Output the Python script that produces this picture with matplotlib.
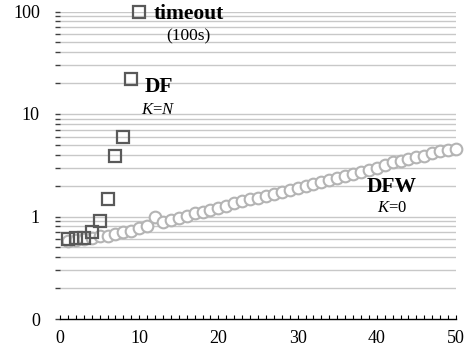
import numpy as np
import matplotlib.pyplot as plt
from matplotlib.ticker import FixedLocator, FixedFormatter, MultipleLocator, NullFormatter

plt.rcParams['font.family'] = ['Liberation Serif', 'DejaVu Serif']
plt.rcParams['mathtext.fontset'] = 'custom'
plt.rcParams['mathtext.rm'] = 'Liberation Serif'
plt.rcParams['mathtext.it'] = 'Liberation Serif:italic'

# DF (K=N): times in seconds, last point hits the 100 s timeout
df_x = [1, 2, 3, 4, 5, 6, 7, 8, 9, 10]
df_y = [0.61, 0.62, 0.62, 0.70, 0.91, 1.48, 3.9, 6.0, 21.8, 100]

# DFW (K=0)
dfw_x = list(range(1, 51))
dfw_y = [0.58, 0.59, 0.61, 0.62, 0.64, 0.65, 0.68, 0.70, 0.73, 0.77,
         0.81, 0.98, 0.88, 0.92, 0.97, 1.02, 1.07, 1.11, 1.17, 1.22,
         1.27, 1.35, 1.41, 1.47, 1.53, 1.60, 1.67, 1.74, 1.82, 1.90,
         1.98, 2.08, 2.18, 2.28, 2.38, 2.48, 2.58, 2.70, 2.84, 3.00,
         3.20, 3.38, 3.48, 3.64, 3.83, 3.92, 4.14, 4.36, 4.45, 4.52]

y_major = [0.1, 1, 10, 100]
y_major_labels = ['0', '1', '10', '100']

fig = plt.figure(figsize=(4.68, 3.55), dpi=100)
ax = fig.add_axes([60 / 468, 1 - 319 / 355, 396 / 468, 307.5 / 355])

ax.set_yscale('log')
ax.set_ylim(0.1, 100)
ax.set_xlim(0, 50)

# gridlines at every minor and major position
grid_pos = [m * 10.0 ** e for e in (-1, 0, 1) for m in range(2, 10)] + [1, 10, 100]
for g in grid_pos:
    ax.axhline(g, color='#c8c8c8', lw=1.0, zorder=0)

ax.plot(dfw_x, dfw_y, 'o', ms=8.4, mfc='white', mec='#b4b4b4', mew=1.5,
        zorder=3, clip_on=False)
ax.plot(df_x, df_y, 's', ms=8.2, mfc='none', mec='#595959', mew=1.6,
        zorder=4, clip_on=False)

ax.yaxis.set_major_locator(FixedLocator(y_major))
ax.yaxis.set_major_formatter(FixedFormatter(y_major_labels))
ax.yaxis.set_minor_locator(FixedLocator(grid_pos))
ax.yaxis.set_minor_formatter(NullFormatter())
ax.tick_params(axis='y', which='both', direction='out', length=3.5, width=1.0,
               color='#404040', pad=11, labelsize=13)

ax.xaxis.set_major_locator(MultipleLocator(10))
ax.xaxis.set_minor_locator(MultipleLocator(1))
ax.tick_params(axis='x', which='both', direction='in', length=3, width=0.8,
               color='black', pad=8, labelsize=13)

for s in ['top', 'right', 'left']:
    ax.spines[s].set_visible(False)
ax.spines['bottom'].set_linewidth(1.0)

ax.text(16.2, 95, 'timeout', ha='center', va='center', fontsize=15.5, fontweight='bold')
ax.text(16.2, 57.7, '(100s)', ha='center', va='center', fontsize=12.5)
ax.text(12.5, 18.2, 'DF', ha='center', va='center', fontsize=15.5, fontweight='bold')
ax.text(12.4, 10.9, '$K$=$N$', ha='center', va='center', fontsize=12)
ax.text(41.9, 1.94, 'DFW', ha='center', va='center', fontsize=15.5, fontweight='bold')
ax.text(42.0, 1.21, '$K$=0', ha='center', va='center', fontsize=12)

fig.savefig('out.png', dpi=100)
